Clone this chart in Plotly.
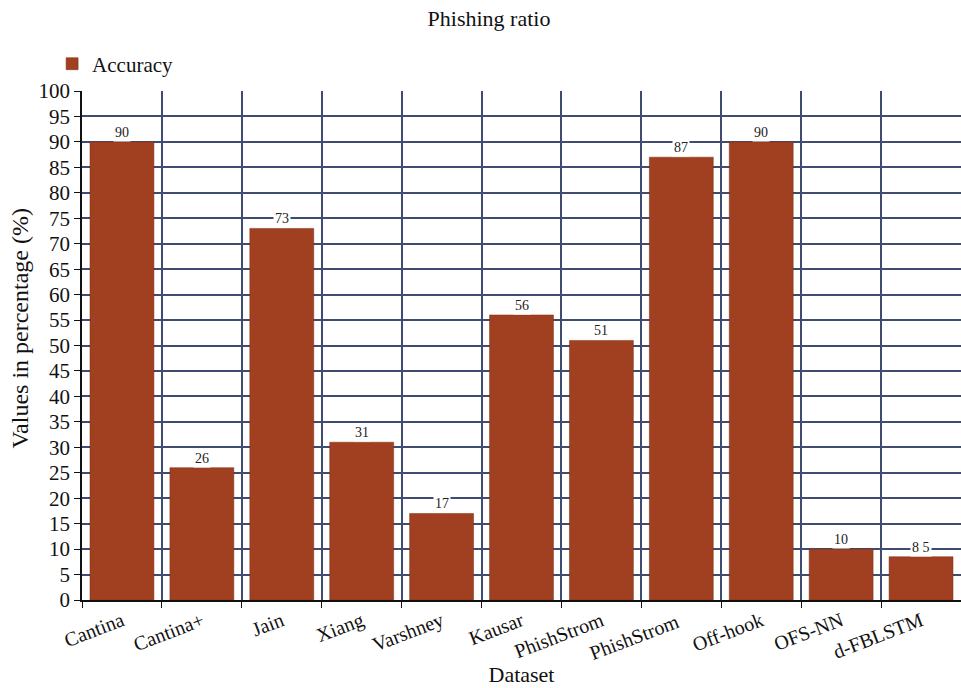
import plotly.graph_objects as go

categories = ["Cantina", "Cantina+", "Jain", "Xiang", "Varshney", "Kausar",
              "PhishStrom", "PhishStrom ", "Off-hook", "OFS-NN", "d-FBLSTM"]
accuracy = [90, 26, 73, 31, 17, 56, 51, 87, 90, 10, 8.5]
label_text = ["90", "26", "73", "31", "17", "56", "51", "87", "90", "10", "8 5"]
y_ticks = list(range(0, 101, 5))

bar_color = "#A13F21"
grid_color = "#3E4C72"
font_family = "Liberation Serif, Times New Roman, serif"

fig = go.Figure()
fig.add_trace(go.Bar(
    x=categories, y=accuracy, name="Accuracy",
    marker=dict(color=bar_color, line=dict(color="#7a2e16", width=0.5)),
    showlegend=True,
))

for c, v, t in zip(categories, accuracy, label_text):
    fig.add_annotation(
        x=c, y=v, text=t, showarrow=False, yanchor="bottom",
        yshift=0, bgcolor="white", borderpad=1,
        font=dict(family=font_family, size=14, color="#222"),
    )

# y-axis title placed as rotated annotation
fig.add_annotation(
    text="Values in percentage (%)", textangle=-90, showarrow=False,
    xref="paper", yref="paper", x=-0.071, xanchor="center",
    y=(600 - 328) / 509, yanchor="middle",
    font=dict(family=font_family, size=24, color="#111"),
)

fig.update_layout(
    width=961, height=688,
    margin=dict(l=82, r=0, t=91, b=88),
    paper_bgcolor="white", plot_bgcolor="white",
    font=dict(family=font_family, color="#111"),
    title=dict(text="Phishing ratio", x=489 / 961, xref="container", xanchor="center",
               y=0.974, yanchor="middle",
               font=dict(family=font_family, size=22, color="#111")),
    bargap=0.2,
    showlegend=True,
    legend=dict(x=-0.034, xanchor="left", y=1.053, yanchor="middle",
                font=dict(family=font_family, size=21, color="#111"),
                itemwidth=30, bgcolor="rgba(0,0,0,0)"),
    xaxis=dict(
        tickson="boundaries", ticks="outside", ticklen=6, tickcolor="#111",
        showgrid=True, gridcolor=grid_color, gridwidth=1.5,
        showline=True, linecolor="#111", linewidth=1.5,
        tickangle=-21, tickfont=dict(family=font_family, size=20, color="#111"),
        title=dict(text="Dataset", font=dict(family=font_family, size=22, color="#111"), standoff=2),
        range=[-0.5, 10.5],
    ),
    yaxis=dict(
        range=[0, 100], tickvals=y_ticks, ticks="outside", ticklen=6, tickcolor="#111",
        showgrid=True, gridcolor=grid_color, gridwidth=1.5,
        showline=True, linecolor="#111", linewidth=1.5, zeroline=False,
        tickfont=dict(family=font_family, size=21, color="#111"),
    ),
)

fig.write_html("out.html")
